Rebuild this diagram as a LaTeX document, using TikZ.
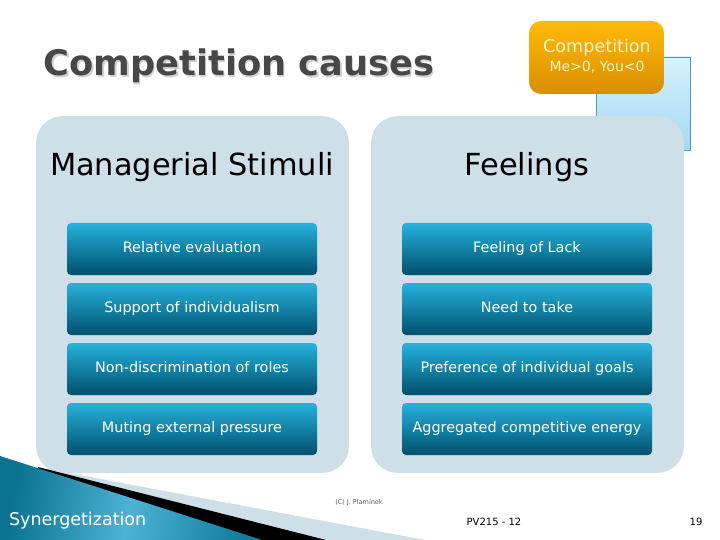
\documentclass[tikz,border=0pt]{standalone}
\usepackage{fontspec}
\setmainfont{DejaVu Sans}
\definecolor{paneblue}{HTML}{CFDFE7}
\definecolor{barlight}{HTML}{27B2DC}
\definecolor{bardark}{HTML}{00506C}
\definecolor{orangetop}{HTML}{FFBA08}
\definecolor{orangebot}{HTML}{D98E00}
\definecolor{orangetext}{HTML}{FFF6C4}
\definecolor{skytop}{HTML}{D8F2FD}
\definecolor{skybot}{HTML}{A2D9F1}
\definecolor{skyline}{HTML}{4B9DB2}
\definecolor{cornerleft}{HTML}{0A7390}
\definecolor{cornermid}{HTML}{4DB2D4}
\definecolor{cornerright}{HTML}{117D9C}
\tikzset{
  pane/.style={fill=paneblue,rounded corners=27pt,inner sep=0pt,minimum width=313pt,minimum height=357pt},
  panehead/.style={font=\fontsize{30.4}{32}\selectfont,black,text height=22pt,text depth=6pt},
  bar/.style={top color=barlight,bottom color=bardark,rounded corners=4pt,inner sep=0pt,
    minimum width=250pt,minimum height=52pt,text=white,font=\fontsize{14.4}{16}\selectfont,
    text height=10pt,text depth=3pt},
  foot/.style={font=\fontsize{10}{12}\selectfont,black}
}
\begin{document}
\begin{tikzpicture}[x=1pt,y=-1pt]
\useasboundingbox (0,0) rectangle (720,540);

% title:
\node[font=\fontsize{35.2}{40}\bfseries,text=black!18] (titleshadow) at (240.5,67.5) {Competition causes};
\node[font=\fontsize{35.2}{40}\bfseries,text=black!72] (title) at (239,66) {Competition causes};

% square behind the orange box:
\node[draw=skyline,top color=skytop,bottom color=skybot,inner sep=0pt,minimum width=94pt,minimum height=93pt] (sky) at (643,103.5) {};
\node[top color=orangetop,bottom color=orangebot,rounded corners=12pt,inner sep=0pt,minimum width=135pt,minimum height=73pt] (orange) at (596.5,57.5) {};
\node[font=\fontsize{17.6}{20}\selectfont,text=orangetext] (comp) at (597,48) {Competition};
\node[font=\fontsize{14}{16}\selectfont,text=orangetext] (mevsyou) at (597,67.5) {Me>0, You<0};

% panes:
\node[pane] (left) at (192.5,294.5) {};
\node[pane] (right) at (527.5,294.5) {};
\node[panehead] (stimuli) at (192,168) {Managerial Stimuli};
\node[panehead] (feelings) at (527,168) {Feelings};

% bars at the left:
\node[bar] (rel) at (192,249) {Relative evaluation};
\node[bar] (sup) at (192,309) {Support of individualism};
\node[bar] (non) at (192,369) {Non-discrimination of roles};
\node[bar] (mut) at (192,429) {Muting external pressure};

% bars at the right:
\node[bar] (lack) at (527,249) {Feeling of Lack};
\node[bar] (need) at (527,309) {Need to take};
\node[bar] (pref) at (527,369) {Preference of individual goals};
\node[bar] (aggr) at (527,429) {Aggregated competitive energy};

% corner:
\fill[paneblue] (48,469) -- (425,540) -- (48,540) -- cycle;
\fill[black] (38,467) -- (326,540) -- (38,540) -- cycle;
\shade[left color=cornerleft,right color=cornerright,middle color=cornermid,shading angle=80] (0,456) -- (262,540) -- (0,540) -- cycle;
\node[font=\fontsize{17.5}{20}\selectfont,text=white,anchor=west] (syn) at (5.5,521) {Synergetization};

% footer:
\node[font=\fontsize{6.5}{8}\selectfont,text=black!65] (copy) at (359,503) {(C) J. Plamínek};
\node[foot] (pv) at (494,522) {PV215 - 12};
\node[foot] (page) at (696,522) {19};

\end{tikzpicture}
\end{document}
